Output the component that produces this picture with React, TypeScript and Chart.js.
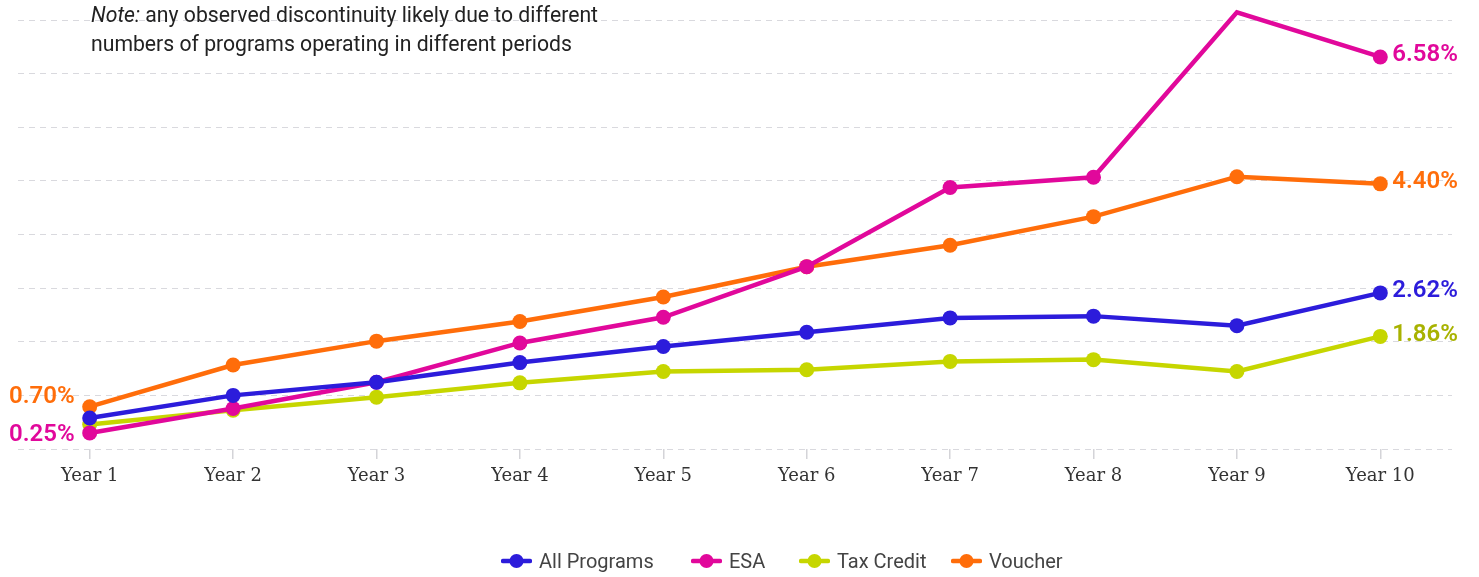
import React, { useEffect, useRef } from "react";
import { Chart, registerables } from "chart.js";

Chart.register(...registerables);

const categories = ["Year 1", "Year 2", "Year 3", "Year 4", "Year 5", "Year 6", "Year 7", "Year 8", "Year 9", "Year 10"];
const allPrograms = [0.52, 0.9, 1.12, 1.45, 1.72, 1.96, 2.2, 2.23, 2.07, 2.62];
const esa = [0.27, 0.68, 1.12, 1.78, 2.21, 3.06, 4.39, 4.56, 7.33, 6.58];
const taxCredit = [0.41, 0.65, 0.87, 1.11, 1.3, 1.33, 1.47, 1.5, 1.3, 1.89];
const voucher = [0.71, 1.41, 1.81, 2.14, 2.55, 3.06, 3.42, 3.9, 4.57, 4.45];

const seriesNames = ["All Programs", "ESA", "Tax Credit", "Voucher"];
const endLabels = ["2.62%", "6.58%", "1.86%", "4.40%"];
const startLabels = ["", "0.25%", "", "0.70%"];

const yTickStep = 0.9;
const yMax = 7.2;

const BLUE = "#2c1cdb";
const MAGENTA = "#e1089b";
const LIME = "#c6d600";
const ORANGE = "#ff6d0a";
const LIME_TEXT = "#a8b200";

const lineColors = [BLUE, MAGENTA, LIME, ORANGE];
const textColors = [BLUE, MAGENTA, LIME_TEXT, ORANGE];
const startShifts = [0, 2, 0, -10];
const legendLefts = [501, 691, 799, 951];

const LABEL_FONT = "600 24px Roboto, 'Liberation Sans', sans-serif";

const labelPlugin = {
  id: "endLabels",
  afterDatasetsDraw(chart: any) {
    const ctx = chart.ctx;
    ctx.save();
    ctx.font = LABEL_FONT;
    ctx.textBaseline = "middle";
    chart.data.datasets.forEach((ds: any, i: number) => {
      const meta = chart.getDatasetMeta(i);
      if (!meta.data.length) return;
      const last = meta.data[meta.data.length - 1];
      ctx.fillStyle = ds.labelColor;
      if (ds.endLabel) {
        ctx.textAlign = "left";
        ctx.fillText(ds.endLabel, last.x + 12, last.y - 1.5);
      }
      if (ds.startLabel) {
        const first = meta.data[0];
        ctx.textAlign = "right";
        ctx.fillText(ds.startLabel, first.x - 15, first.y + (ds.startShift || 0));
      }
    });
    ctx.restore();
  },
};

export default function App() {
  const ref = useRef<HTMLCanvasElement>(null);
  useEffect(() => {
    document.body.style.margin = "0";
    const values = [allPrograms, esa, taxCredit, voucher];
    const datasets = seriesNames.map((name, i) => ({
      label: name,
      data: values[i],
      borderColor: lineColors[i],
      backgroundColor: lineColors[i],
      borderWidth: 4.5,
      pointRadius: 7.5,
      pointHoverRadius: 7.5,
      pointBorderWidth: 0,
      pointBackgroundColor: lineColors[i],
      tension: 0,
      clip: false,
      order: i + 1,
      endLabel: endLabels[i],
      startLabel: startLabels[i],
      startShift: startShifts[i],
      labelColor: textColors[i],
    }));
    const chart = new Chart(ref.current!, {
      type: "line",
      data: { labels: categories, datasets: datasets as any },
      options: {
        animation: false,
        responsive: false,
        maintainAspectRatio: false,
        layout: { padding: { left: 18, right: 27, top: 20, bottom: 0 } },
        scales: {
          x: {
            offset: true,
            border: { display: false },
            grid: { drawOnChartArea: false, tickLength: 10, color: "#d4d4d8", lineWidth: 1.5 },
            ticks: { color: "#333", padding: 7, font: { family: "'DejaVu Serif', serif", size: 18 } },
            afterFit: (s: any) => { s.height = 128; },
          },
          y: {
            min: 0,
            max: yMax,
            border: { display: false, dash: [6, 5] },
            grid: { color: "#d9d9de", lineWidth: 1, drawTicks: false },
            ticks: { display: false, stepSize: yTickStep },
            afterFit: (s: any) => { s.width = 0; },
          } as any,
        },
        plugins: {
          tooltip: { enabled: false },
          legend: { display: false },
        },
      },
      plugins: [labelPlugin],
    });
    return () => chart.destroy();
  }, []);

  return (
    <div style={{ position: "relative", width: 1479, height: 577 }}>
      <canvas ref={ref} width={1479} height={577} style={{ display: "block" }} />
      <div
        style={{
          position: "absolute",
          left: 91,
          top: 0,
          fontFamily: "Roboto, sans-serif",
          fontSize: 21.2,
          lineHeight: "29px",
          color: "#222",
        }}
      >
        <i>Note:</i> any observed discontinuity likely due to different
        <br />
        numbers of programs operating in different periods
      </div>
      {seriesNames.map((name, i) => (
        <div
          key={name}
          style={{
            position: "absolute",
            left: legendLefts[i],
            top: 547,
            height: 28,
            display: "flex",
            alignItems: "center",
            fontFamily: "Roboto, sans-serif",
            fontSize: 20,
            color: "#444",
            whiteSpace: "nowrap",
          }}
        >
          <svg width={31} height={16} style={{ marginRight: 7 }}>
            <line x1={2} y1={8} x2={29} y2={8} stroke={lineColors[i]} strokeWidth={4.5} strokeLinecap="round" />
            <circle cx={15.5} cy={8} r={7} fill={lineColors[i]} />
          </svg>
          <span>{name}</span>
        </div>
      ))}
    </div>
  );
}
